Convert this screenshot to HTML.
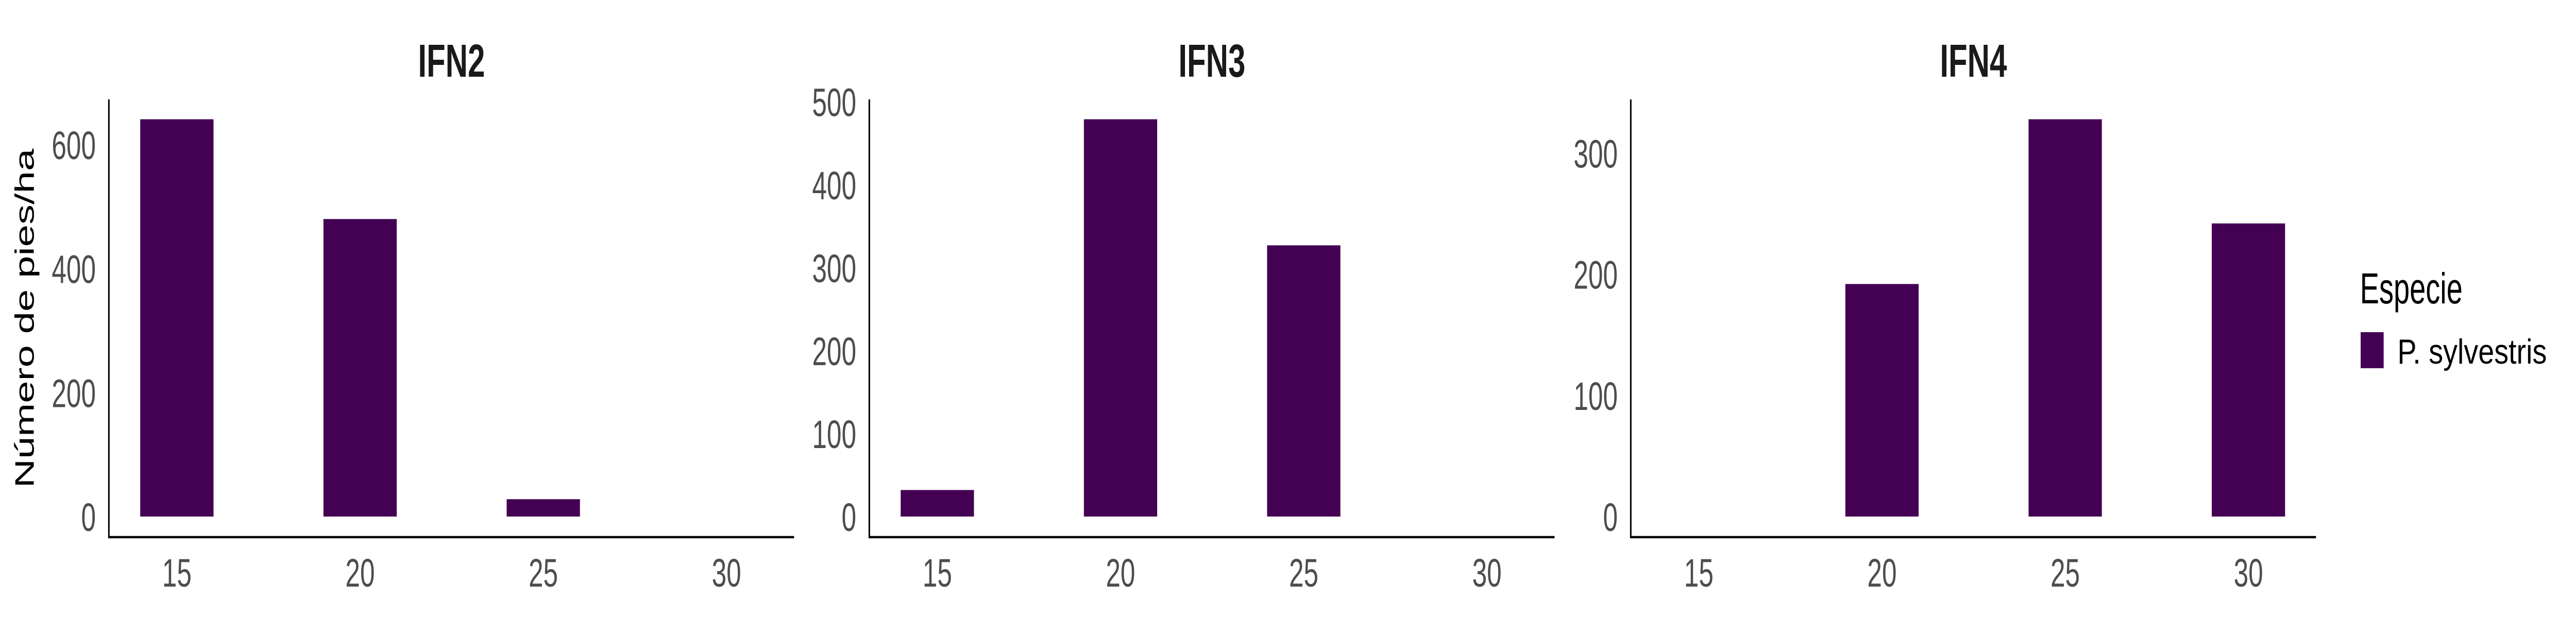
<!DOCTYPE html>
<html><head><meta charset="utf-8">
<style>
html,body{margin:0;padding:0;background:#fff;width:100%;height:100%;overflow:hidden;}
svg{display:block;font-family:"Liberation Sans",Arial,sans-serif;width:100vw;height:100vh;}
</style></head>
<body>
<svg id="chart" viewBox="0 0 7500 1200" preserveAspectRatio="none" xmlns="http://www.w3.org/2000/svg">
<text transform="translate(98,618) rotate(-90)" text-anchor="middle" font-size="78" fill="#000">Número de pies/ha</text>
<g>
<text x="6871" y="589" font-size="84" fill="#000">Especie</text>
<rect x="6873" y="645" width="67" height="70" fill="#440154"/>
<text x="6980" y="706" font-size="68" textLength="435" lengthAdjust="spacingAndGlyphs" fill="#000">P. sylvestris</text>
</g>
</svg>
<script>
const categories = ["15","20","25","30"];
const panelTitles = ["IFN2","IFN3","IFN4"];
const ifn2Values = [641, 480, 28, 0];
const ifn3Values = [32, 479, 327, 0];
const ifn4Values = [0, 192, 328, 242];
const ifn2Ticks = [0, 200, 400, 600];
const ifn3Ticks = [0, 100, 200, 300, 400, 500];
const ifn4Ticks = [0, 100, 200, 300];

const svg = document.getElementById('chart');
const NS = 'http://www.w3.org/2000/svg';
function mk(tag, attrs, parent){
  const e = document.createElementNS(NS, tag);
  for (const k in attrs) e.setAttribute(k, attrs[k]);
  parent.appendChild(e); return e;
}
const panels = [
  {left:317, values:ifn2Values, ticks:ifn2Ticks},
  {left:2531, values:ifn3Values, ticks:ifn3Ticks},
  {left:4748, values:ifn4Values, ticks:ifn4Ticks}
];
const W = 1995, axisY = 1043, zeroY = 1003, topY = 193;
panels.forEach((p, i) => {
  const g = mk('g', {}, svg);
  
  
  const maxV = Math.max(...p.values) * 1.05;
  const y = v => zeroY - v / maxV * (zeroY - topY);
  const step = W / 3.74;
  const x = j => p.left + 198 + j * step;
  const t = mk('text', {x: p.left + W/2, y: 149, 'text-anchor':'middle', 'font-size':90, 'font-weight':'bold', fill:'#1a1a1a'}, g);
  
  
  t.textContent = panelTitles[i];
  p.values.forEach((v, j) => {
    if (v <= 0) return;
    const r = mk('rect', {x: x(j) - step*0.2, y: y(v), width: step*0.4, height: zeroY - y(v), fill:'#440154'}, g);
    
    
  });
  p.ticks.forEach(tv => {
    const l = mk('text', {x: p.left - 38, y: y(tv) + 28, 'text-anchor':'end', 'font-size':77, fill:'#4d4d4d'}, g);
    
    
    l.textContent = tv;
  });
  categories.forEach((c, j) => {
    const l = mk('text', {x: x(j), y: 1139, 'text-anchor':'middle', 'font-size':77, fill:'#4d4d4d'}, g);
    
    
    l.textContent = c;
  });
  const ya = mk('line', {x1:p.left, y1:topY, x2:p.left, y2:axisY+2, stroke:'#000', 'stroke-width':4.5}, g);
  
  
  const xa = mk('line', {x1:p.left-2, y1:axisY, x2:p.left+W, y2:axisY, stroke:'#000', 'stroke-width':4.5}, g);
  
  
});
</script>
</body></html>
